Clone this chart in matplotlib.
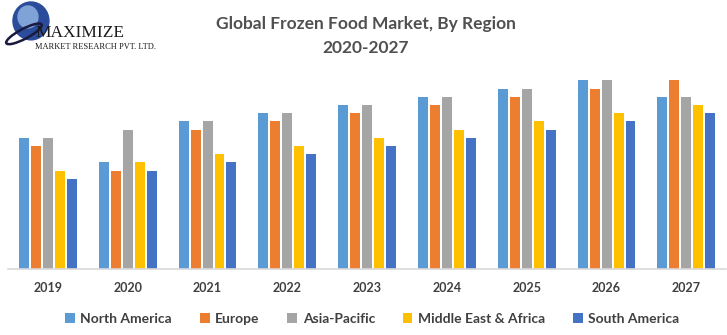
import numpy as np
import matplotlib.pyplot as plt
from matplotlib.patches import Ellipse

years = ["2019", "2020", "2021", "2022", "2023", "2024", "2025", "2026", "2027"]
north_america = [16, 13, 18, 19, 20, 21, 22, 23, 21]
europe = [15, 12, 17, 18, 19, 20, 21, 22, 23]
asia_pacific = [16, 17, 18, 19, 20, 21, 22, 23, 21]
mea = [12, 13, 14, 15, 16, 17, 18, 19, 20]
south_america = [11, 12, 13, 14, 15, 16, 17, 18, 19]

series = [
    ("North America", north_america, "#5B9BD5"),
    ("Europe", europe, "#ED7D31"),
    ("Asia-Pacific", asia_pacific, "#A5A5A5"),
    ("Middle East & Africa", mea, "#FFC000"),
    ("South America", south_america, "#4472C4"),
]

plt.rcParams['font.family'] = ['Lato', 'DejaVu Sans']
fig = plt.figure(figsize=(7.27, 3.35), dpi=100)
ax = fig.add_axes([0.011, 0.197, 0.988, 0.612])

x = np.arange(len(years))
pitch = 0.15
width = 0.125
for i, (name, vals, col) in enumerate(series):
    ax.bar(x + (i - 2) * pitch, vals, width=width, color=col, label=name)

ax.set_xlim(-0.5, len(years) - 0.5)
ax.set_ylim(0, 25)
for s in ["top", "right", "left"]:
    ax.spines[s].set_visible(False)
ax.spines["bottom"].set_color("#D9D9D9")
ax.spines["bottom"].set_linewidth(1.2)
ax.set_yticks([])
ax.set_xticks(x)
ax.set_xticklabels(years, fontsize=9, fontweight="bold", color="#404040")
ax.tick_params(axis="x", length=0, pad=9)

leg = fig.legend(loc="center", bbox_to_anchor=(0.512, 0.048), ncol=5, frameon=False,
                 prop={"size": 10, "weight": "bold"}, handlelength=0.7, handleheight=0.7,
                 handletextpad=0.4, columnspacing=2.0)
for t in leg.get_texts():
    t.set_color("#404040")

fig.text(0.503, 0.928, "Global Frozen Food Market, By Region", ha="center", va="center",
         fontsize=12.5, fontweight="bold", color="#505050")
fig.text(0.503, 0.857, "2020-2027", ha="center", va="center",
         fontsize=12.5, fontweight="bold", color="#505050")

# logo
lax = fig.add_axes([0, 0.78, 0.25, 0.22])
lax.set_xlim(0, 182)
lax.set_ylim(0, 74)
lax.axis("off")
lax.add_patch(Ellipse((31, 53), 36, 38, color="#2B4C9A"))
lax.add_patch(Ellipse((28, 57), 20, 22, color="#7FA3D6"))
lax.add_patch(Ellipse((24, 40), 40, 10, angle=28, fill=False, ec="#1A1A40", lw=1.8))
lax.text(36, 41, "MAXIMIZE", family="Liberation Serif", fontsize=12.5, color="#1A1A1A", va="center")
lax.text(35, 27, "MARKET RESEARCH PVT. LTD.", family="Liberation Serif", fontsize=6,
         color="#1A1A1A", va="center")

fig.savefig("out.png", dpi=100)
